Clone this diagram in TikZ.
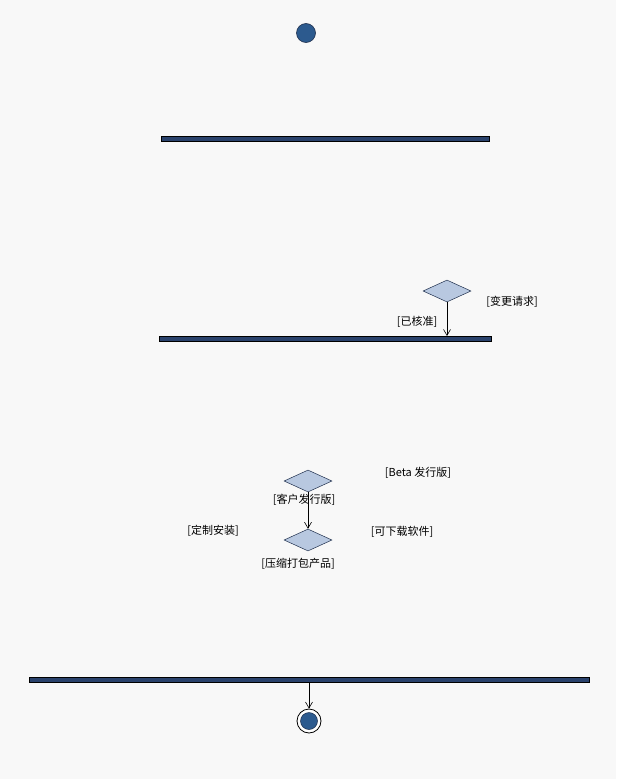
\documentclass[tikz,border=0pt]{standalone}
\usepackage{fontspec}
\newfontfamily\cjk{Noto Sans CJK SC}
\usepackage{tikz}
\usetikzlibrary{arrows.meta,positioning,shapes.geometric}

\definecolor{bgcol}{HTML}{F8F8F8}
\definecolor{barcol}{HTML}{2A426C}
\definecolor{startcol}{HTML}{2C5A8E}
\definecolor{diacol}{HTML}{B8C8E0}
\definecolor{edgecol}{HTML}{1E2E4C}

\begin{document}
\begin{tikzpicture}[
    x=1pt, y=-1pt,
    syncbar/.style={rectangle, draw=black, fill=barcol, line width=0.7pt,
                minimum height=5pt, inner sep=0pt, anchor=north west},
    decision/.style={diamond, draw=edgecol, fill=diacol, line width=0.5pt,
                minimum width=48pt, minimum height=22pt, inner sep=0pt},
    guard/.style={font=\cjk\fontsize{11}{13}\selectfont, inner sep=0pt,
                yshift=-1.5pt},
    flow/.style={-{Straight Barb[length=6pt,width=7pt]}, line width=0.6pt},
    >=Stealth
]
\fill[bgcol] (0,0) rectangle (616,779);
\useasboundingbox (0,0) rectangle (616,779);

% start and forks
\node[circle, draw=edgecol, fill=startcol, line width=0.6pt,
      minimum size=19pt, inner sep=0pt] (start) at (306,33) {};
\node[syncbar, minimum width=328pt] (fork1) at (161,136) {};
\node[syncbar, minimum width=332pt] (fork2) at (159,336) {};

% change request decision
\node[decision] (approve) at (447,291) {};
\node[guard] (change) at (512,300) {[变更请求]};
\node[guard] (ok) at (417,320) {[已核准]};
\draw[flow] (approve.south) -- (approve.south |- fork2.north);

% release decisions
\node[decision] (release) at (308,481) {};
\node[decision] (package) at (308,540) {};
\node[guard] (beta) at (418,471) {[Beta 发行版]};
\node[guard] (client) at (304,498) {[客户发行版]};
\node[guard] (custom) at (213,529) {[定制安装]};
\node[guard] (download) at (402,530) {[可下载软件]};
\node[guard] (zip) at (298,562) {[压缩打包产品]};
\draw[flow] (release.south) -- (package.north);

% join and end
\node[syncbar, minimum width=560pt] (join) at (29,677) {};
\node[circle, draw=black, fill=white, line width=0.8pt,
      minimum size=24pt, inner sep=0pt] (finish) at (309,721) {};
\node[circle, draw=edgecol, fill=startcol, line width=0.5pt,
      minimum size=17pt, inner sep=0pt] (finishdot) at (finish) {};
\draw[flow] (finish.north |- join.south) -- (finish.north);
\end{tikzpicture}
\end{document}
